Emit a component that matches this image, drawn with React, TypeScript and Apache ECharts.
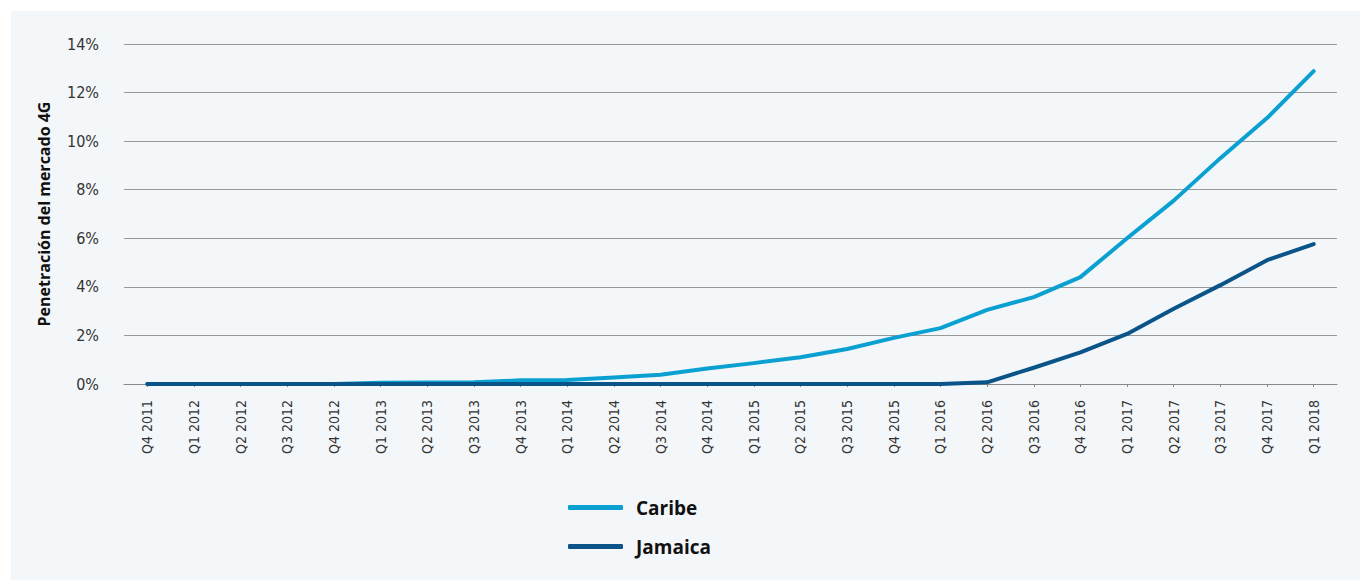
import React, { useEffect, useRef } from "react";
import * as echarts from "echarts";

const categories = [
  "Q4 2011", "Q1 2012", "Q2 2012", "Q3 2012", "Q4 2012", "Q1 2013", "Q2 2013", "Q3 2013",
  "Q4 2013", "Q1 2014", "Q2 2014", "Q3 2014", "Q4 2014", "Q1 2015", "Q2 2015", "Q3 2015",
  "Q4 2015", "Q1 2016", "Q2 2016", "Q3 2016", "Q4 2016", "Q1 2017", "Q2 2017", "Q3 2017",
  "Q4 2017", "Q1 2018",
];

const caribe = [
  0, 0, 0, 0, 0, 0.05, 0.06, 0.07, 0.15, 0.16, 0.27, 0.38, 0.64, 0.86, 1.1, 1.44,
  1.9, 2.3, 3.05, 3.58, 4.4, 6.0, 7.55, 9.3, 10.95, 12.88,
];

const jamaica = [
  0, 0, 0, 0, 0, 0, 0, 0, 0, 0, 0, 0, 0, 0, 0, 0,
  0, 0, 0.07, 0.67, 1.3, 2.06, 3.1, 4.07, 5.1, 5.76,
];

const yTicks = { min: 0, max: 14, interval: 2 };

const seriesNames = ["Caribe", "Jamaica"];
const seriesColors = ["#0aa1d2", "#0b548a"];

const narrow = "'DejaVu Sans Condensed', 'Liberation Sans Narrow', sans-serif";

export default function App() {
  const ref = useRef<HTMLDivElement>(null);

  useEffect(() => {
    if (!ref.current) return;
    const chart = echarts.init(ref.current, null, { renderer: "svg" });
    chart.setOption({
      animation: false,
      backgroundColor: "#ffffff",
      graphic: [
        {
          type: "rect",
          z: -10,
          silent: true,
          shape: { x: 11, y: 11, width: 1349, height: 569 },
          style: { fill: "#f4f7f9" },
        },
      ],
      grid: { left: 124, right: 23, top: 44, bottom: 196, containLabel: false },
      legend: {
        orient: "vertical",
        left: 563,
        top: 493,
        itemWidth: 55,
        itemHeight: 5,
        itemGap: 20,
        icon: "roundRect",
        textStyle: {
          fontFamily: "'Open Sans', sans-serif",
          fontWeight: "bold",
          fontSize: 19,
          color: "#111",
          padding: [0, 0, 0, 8],
        },
        data: seriesNames,
      },
      xAxis: {
        type: "category",
        data: categories,
        boundaryGap: true,
        axisLine: { show: true, lineStyle: { color: "#8a8a8a", width: 1 } },
        axisTick: { show: true, alignWithLabel: true, length: 3, lineStyle: { color: "#8a8a8a" } },
        axisLabel: {
          rotate: 90,
          margin: 16,
          interval: 0,
          fontFamily: narrow,
          fontSize: 14,
          color: "#333",
        },
      },
      yAxis: {
        type: "value",
        min: yTicks.min,
        max: yTicks.max,
        interval: yTicks.interval,
        name: "Penetración del mercado 4G",
        nameLocation: "middle",
        nameGap: 72,
        nameTextStyle: {
          fontFamily: "'Open Sans', sans-serif",
          fontWeight: "bold",
          fontSize: 16,
          color: "#111",
        },
        axisLine: { show: false },
        axisTick: { show: false },
        axisLabel: {
          formatter: "{value}%",
          margin: 25,
          fontFamily: narrow,
          fontSize: 16,
          color: "#333",
        },
        splitLine: { lineStyle: { color: "#999", width: 1 } },
      },
      series: [
        {
          name: seriesNames[0],
          type: "line",
          data: caribe,
          showSymbol: false,
          z: 3,
          color: seriesColors[0],
          lineStyle: { width: 4, color: seriesColors[0], cap: "round", join: "round" },
        },
        {
          name: seriesNames[1],
          type: "line",
          data: jamaica,
          showSymbol: false,
          z: 4,
          color: seriesColors[1],
          lineStyle: { width: 4, color: seriesColors[1], cap: "round", join: "round" },
        },
      ],
    });
    return () => chart.dispose();
  }, []);

  return (
    <div
      ref={ref}
      style={{ position: "fixed", left: 0, top: 0, width: 1360, height: 580 }}
    />
  );
}
